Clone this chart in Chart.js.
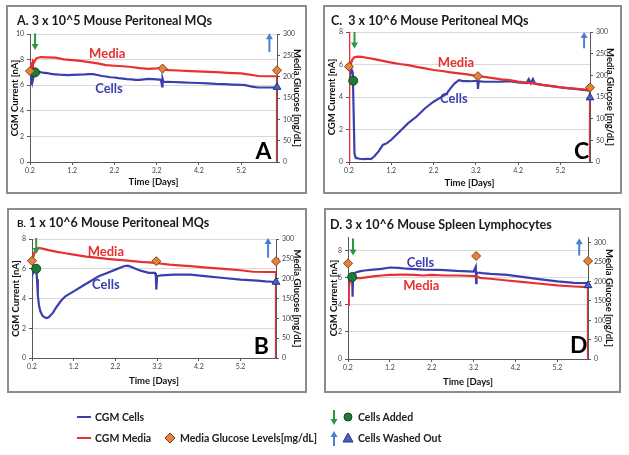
<!DOCTYPE html>
<html>
<head>
<meta charset="utf-8">
<script src="https://cdn.jsdelivr.net/npm/chart.js@4.4.1/dist/chart.umd.min.js"></script>
<style>
  body { margin: 0; width: 629px; height: 455px; background: #fff; position: relative; overflow: hidden; font-family: Lato, sans-serif; }
  .box { position: absolute; border: 2px solid #8c8c8c; box-sizing: border-box; pointer-events: none; }
  canvas { position: absolute; }
  .ttl { position: absolute; font: bold 12.5px Lato, sans-serif; line-height: 14px; color: #1a1a1a; white-space: pre; }
  .lg { position: absolute; font: bold 10.5px Lato, sans-serif; line-height: 14px; color: #222; white-space: nowrap; }
</style>
</head>
<body>
<script>
// ---- data (days / nA / mg/dL) ----
const xTicks = [0.2, 1.2, 2.2, 3.2, 4.2, 5.2];

// A. 3 x 10^5 peritoneal
const aCellsT = [0.2,0.22,0.24,0.26,0.28,0.3,0.34,0.4,0.5,0.6,0.7,0.8,0.9,1.0,1.1,1.2,1.35,1.5,1.6,1.7,1.8,1.9,2.0,2.1,2.2,2.3,2.4,2.5,2.6,2.7,2.8,2.9,3.0,3.1,3.2,3.3,3.33,3.34,3.36,3.45,3.6,3.8,4.0,4.2,4.4,4.6,4.8,5.0,5.2,5.3,5.4,5.5,5.6,5.8,6.05];
const aCells  = [6.1,6.6,7.0,6.3,6.6,6.95,7.0,7.05,6.98,6.95,6.88,6.85,6.82,6.8,6.78,6.8,6.82,6.84,6.87,6.86,6.8,6.72,6.68,6.62,6.6,6.55,6.52,6.48,6.45,6.42,6.42,6.46,6.5,6.48,6.45,6.42,5.9,6.5,6.25,6.27,6.25,6.22,6.19,6.17,6.14,6.1,6.08,6.05,6.03,6.0,5.93,5.87,5.82,5.82,5.82];
const aMediaT = [0.2,0.22,0.23,0.25,0.27,0.3,0.35,0.45,0.6,0.8,1.0,1.2,1.4,1.6,1.8,2.0,2.2,2.4,2.6,2.8,3.0,3.2,3.3,3.36,3.5,3.7,4.0,4.3,4.6,4.9,5.2,5.35,5.5,5.6,5.8,6.05,6.05];
const aMedia  = [7.0,7.8,7.2,6.9,7.9,7.8,8.1,8.2,8.18,8.15,8.02,7.96,7.9,7.8,7.7,7.57,7.52,7.48,7.42,7.33,7.28,7.32,7.35,7.22,7.18,7.15,7.1,7.06,7.02,6.97,6.92,6.85,6.78,6.72,6.7,6.7,0];
const aGlucT = [0.2, 3.34, 6.05];
const aGluc  = [213, 219, 215];
const aAddT = [0.32], aAdd = [7.0];
const aOutT = [6.05], aOut = [5.85];

// C. 3 x 10^6 peritoneal
const cCellsT = [0.2,0.23,0.26,0.29,0.31,0.33,0.36,0.45,0.55,0.65,0.72,0.8,0.9,1.0,1.1,1.2,1.4,1.6,1.8,2.0,2.2,2.4,2.5,2.6,2.7,2.8,2.9,3.0,3.1,3.2,3.24,3.25,3.27,3.4,3.6,3.8,4.0,4.2,4.4,4.45,4.5,4.55,4.6,4.8,5.0,5.2,5.4,5.6,5.9];
const cCells  = [4.8,5.4,5.7,5.5,3.0,0.5,0.25,0.2,0.18,0.2,0.18,0.35,0.65,1.05,1.16,1.37,1.88,2.39,2.8,3.31,3.71,4.02,4.18,4.53,4.84,5.04,4.98,4.98,4.97,5.0,4.98,4.5,4.97,4.94,4.94,4.95,4.98,4.9,4.86,5.1,4.84,5.1,4.82,4.73,4.67,4.59,4.53,4.49,4.39];
const cMediaT = [0.2,0.2,0.21,0.24,0.28,0.33,0.4,0.5,0.65,0.8,1.0,1.2,1.4,1.6,1.8,2.0,2.2,2.4,2.6,2.8,3.0,3.2,3.4,3.6,3.8,4.0,4.2,4.4,4.6,4.8,5.0,5.2,5.4,5.6,5.9,5.9];
const cMedia  = [0,8.6,5.9,6.0,6.3,6.45,6.48,6.47,6.4,6.33,6.22,6.12,6.03,5.96,5.85,5.76,5.66,5.6,5.52,5.45,5.39,5.3,5.24,5.16,5.08,5.04,4.95,4.88,4.82,4.74,4.67,4.6,4.55,4.5,4.43,0];
const cGlucT = [0.2, 3.25, 5.9];
const cGluc  = [220, 198, 172];
const cAddT = [0.3], cAdd = [5.0];
const cOutT = [5.9], cOut = [3.96];

// B. 1 x 10^6 peritoneal
const bCellsT = [0.2,0.24,0.27,0.3,0.32,0.34,0.37,0.4,0.45,0.5,0.55,0.6,0.7,0.8,0.9,1.0,1.2,1.4,1.6,1.8,2.0,2.2,2.4,2.5,2.6,2.8,3.0,3.15,3.17,3.18,3.2,3.3,3.6,4.0,4.4,4.8,5.2,5.6,5.8,6.05];
const bCells  = [5.5,5.9,6.0,6.1,5.3,4.2,3.5,3.14,2.85,2.74,2.69,2.74,3.03,3.48,3.86,4.15,4.48,4.82,5.16,5.49,5.72,5.94,6.17,6.21,6.1,5.87,5.72,5.72,5.5,4.6,5.5,5.56,5.6,5.6,5.49,5.38,5.27,5.2,5.15,5.11];
const bMediaT = [0.2,0.22,0.25,0.28,0.32,0.36,0.45,0.6,0.8,1.0,1.2,1.5,1.8,2.0,2.2,2.5,2.8,3.0,3.15,3.2,3.5,3.8,4.0,4.4,4.8,5.2,5.5,5.8,6.05,6.05];
const bMedia  = [6.3,6.7,7.0,7.25,7.35,7.4,7.35,7.25,7.13,7.04,6.95,6.82,6.73,6.66,6.61,6.55,6.46,6.43,6.4,6.37,6.28,6.21,6.17,6.08,5.99,5.9,5.8,5.78,5.78,0];
const bGlucT = [0.2, 3.18, 6.05];
const bGluc  = [245, 244, 244];
const bAddT = [0.3], bAdd = [6.0];
const bOutT = [6.05], bOut = [5.11];

// D. 3 x 10^6 spleen lymphocytes
const dCellsT = [0.2,0.25,0.3,0.31,0.32,0.33,0.4,0.5,0.6,0.8,1.0,1.2,1.4,1.6,2.0,2.4,2.8,3.2,3.25,3.26,3.27,3.3,3.4,3.6,4.0,4.4,4.8,5.2,5.6,5.93];
const dCells  = [5.8,6.0,6.2,4.6,6.2,6.3,6.4,6.48,6.53,6.6,6.65,6.75,6.72,6.66,6.6,6.58,6.5,6.45,6.8,5.6,6.4,6.38,6.34,6.28,6.21,6.04,5.87,5.72,5.62,5.6];
const dMediaT = [0.2,0.22,0.25,0.3,0.4,0.5,0.8,1.0,1.2,1.5,1.8,2.0,2.2,2.5,2.8,3.0,3.25,3.3,3.35,3.6,4.0,4.4,4.8,5.2,5.6,5.93,5.93];
const dMedia  = [4.0,5.3,5.8,5.97,5.97,5.97,6.09,6.16,6.21,6.22,6.21,6.16,6.21,6.16,6.16,6.14,6.11,6.05,5.99,5.92,5.79,5.67,5.55,5.43,5.35,5.3,0];
const dGlucT = [0.2, 3.26, 5.93];
const dGluc  = [247, 266, 253];
const dAddT = [0.3], dAdd = [6.04];
const dOutT = [5.93], dOut = [5.43];

// arrows [day, from, to(tip)], text anchors [day, nA]
const aArrows = [[0.32, 10.05, 8.75], [5.87, 8.6, 10.05]];
const cArrows = [[0.33, 8.0, 6.98], [5.76, 7.0, 8.0]];
const bArrows = [[0.3, 8.07, 7.0], [5.86, 6.75, 8.07]];
const dArrows = [[0.32, 8.9, 7.63], [5.72, 7.63, 8.9]];
const aLabels = [['Media', 2.03, 8.43], ['Cells', 2.07, 5.74], ['A', 5.73, 0.84]];
const cLabels = [['Media', 2.73, 6.1], ['Cells', 2.68, 3.88], ['C', 5.7, 0.65]];
const bLabels = [['Media', 1.97, 7.17], ['Cells', 1.97, 4.89], ['B', 5.7, 0.78]];
const dLabels = [['Cells', 1.93, 7.07], ['Media', 1.95, 5.43], ['D', 5.71, 0.98]];

const BLUE = '#3a3fae', RED = '#e8312f', ORANGE = '#e8823a', GREEN = '#1e7a36', GARROW = '#2a9a3c', BARROW = '#4a7fd0', TRI = '#4b5fc4';
Chart.defaults.font.family = 'Lato, sans-serif';

const zip = (t, v) => t.map((x, i) => ({ x, y: v[i] }));

const panels = [
  { title: 'A. 3 x 10^5 Mouse Peritoneal MQs', tl: [17, 14], box: [6, 5, 301, 189], top: 29, yW: 24, y2W: 30, xH: 32, xPad: 6, yPad: 3, y2Pad: 4,
    xMax: 6.05, yMax: 10, y2Max: 300, yTicks: [0, 2, 4, 6, 8, 10],
    cells: zip(aCellsT, aCells), media: zip(aMediaT, aMedia), gluc: zip(aGlucT, aGluc), add: zip(aAddT, aAdd), out: zip(aOutT, aOut), arrows: aArrows, labels: aLabels },
  { title: 'C.  3 x 10^6 Mouse Peritoneal MQs', tl: [331, 14], box: [323, 5, 299, 189], top: 27, yW: 26, y2W: 32, xH: 32, xPad: 5, yPad: 3, y2Pad: 6,
    xMax: 5.9, yMax: 8, y2Max: 300, yTicks: [0, 2, 4, 6, 8],
    cells: zip(cCellsT, cCells), media: zip(cMediaT, cMedia), gluc: zip(cGlucT, cGluc), add: zip(cAddT, cAdd), out: zip(cOutT, cOut), arrows: cArrows, labels: cLabels },
  { title: '<span style="font-size:10px">B.</span> 1 x 10^6 Mouse Peritoneal MQs', tl: [17, 216], box: [7, 208, 300, 185], top: 31, yW: 25, y2W: 31, xH: 35, xPad: 6, yPad: 3, y2Pad: 4,
    xMax: 6.05, yMax: 8, y2Max: 300, yTicks: [0, 2, 4, 6, 8],
    cells: zip(bCellsT, bCells), media: zip(bMediaT, bMedia), gluc: zip(bGlucT, bGluc), add: zip(bAddT, bAdd), out: zip(bOutT, bOut), arrows: bArrows, labels: bLabels },
  { title: 'D. 3 x 10^6 Mouse Spleen Lymphocytes', tl: [330, 218], box: [324, 208, 297, 185], top: 29, yW: 24, y2W: 33, xH: 34, xPad: 5, yPad: 4, y2Pad: 6,
    xMax: 5.93, yMax: 9, y2Max: 315, yTicks: [0, 2, 4, 6, 8],
    cells: zip(dCellsT, dCells), media: zip(dMediaT, dMedia), gluc: zip(dGlucT, dGluc), add: zip(dAddT, dAdd), out: zip(dOutT, dOut), arrows: dArrows, labels: dLabels }
];

function drawArrow(ctx, x, yFrom, yTo, color) {
  const dir = Math.sign(yTo - yFrom);
  ctx.strokeStyle = color; ctx.fillStyle = color; ctx.lineWidth = 2;
  ctx.beginPath(); ctx.moveTo(x, yFrom); ctx.lineTo(x, yTo - dir * 5); ctx.stroke();
  ctx.beginPath(); ctx.moveTo(x - 3.5, yTo - dir * 6); ctx.lineTo(x + 3.5, yTo - dir * 6); ctx.lineTo(x, yTo); ctx.closePath(); ctx.fill();
}

function notesPlugin(p) {
  return {
    id: 'notes',
    afterDatasetsDraw(chart) {
      const { ctx, scales: { x, y } } = chart;
      ctx.save();
      p.arrows.forEach((a, i) => drawArrow(ctx, x.getPixelForValue(a[0]), y.getPixelForValue(a[1]), y.getPixelForValue(a[2]), i === 0 ? GARROW : BARROW));
      ctx.textAlign = 'center'; ctx.textBaseline = 'middle';
      p.labels.forEach(l => {
        const big = l[0].length === 1;
        ctx.font = big ? 'bold 23px Lato' : 'bold 13px Lato';
        ctx.fillStyle = big ? '#000' : (l[0] === 'Media' ? RED : BLUE);
        ctx.fillText(l[0], x.getPixelForValue(l[1]), y.getPixelForValue(l[2]));
      });
      ctx.restore();
    }
  };
}

function axisTitle(text, pad, bottom) {
  return { display: true, text, color: '#111', font: { size: 9.5, weight: 'bold' },
           padding: bottom ? { top: 0, bottom: pad } : { top: pad, bottom: 0 } };
}

panels.forEach(p => {
  const [bx, by, bw, bh] = p.box;
  const cv = document.createElement('canvas');
  cv.width = bw; cv.height = bh;
  cv.style.left = bx + 'px'; cv.style.top = by + 'px';
  cv.style.width = bw + 'px'; cv.style.height = bh + 'px';
  document.body.appendChild(cv);

  const box = document.createElement('div');
  box.className = 'box';
  Object.assign(box.style, { left: bx + 'px', top: by + 'px', width: bw + 'px', height: bh + 'px' });
  document.body.appendChild(box);

  const t = document.createElement('div');
  t.className = 'ttl'; t.innerHTML = p.title;
  t.style.left = p.tl[0] + 'px'; t.style.top = p.tl[1] + 'px';
  document.body.appendChild(t);

  const tickFont = { size: 7 };
  new Chart(cv, {
    type: 'scatter',
    data: {
      datasets: [
        { data: p.gluc, yAxisID: 'y2', pointStyle: 'rectRot', pointRadius: 4.5, backgroundColor: ORANGE, borderColor: '#7a4418', borderWidth: 1, clip: false },
        { data: p.add, yAxisID: 'y', pointStyle: 'circle', pointRadius: 4.5, backgroundColor: GREEN, borderColor: '#0f4a20', borderWidth: 1, clip: false },
        { data: p.out, yAxisID: 'y', pointStyle: 'triangle', pointRadius: 4.5, backgroundColor: TRI, borderColor: '#26338a', borderWidth: 1, clip: false },
        { data: p.media, yAxisID: 'y', showLine: true, pointRadius: 0, borderColor: RED, borderWidth: 2.2 },
        { data: p.cells, yAxisID: 'y', showLine: true, pointRadius: 0, borderColor: BLUE, borderWidth: 2.2 }
      ]
    },
    options: {
      responsive: false, animation: false, devicePixelRatio: 1,
      layout: { padding: { top: p.top, left: 0, right: 0, bottom: 0 }, autoPadding: false },
      plugins: { legend: { display: false }, tooltip: { enabled: false } },
      scales: {
        x: {
          type: 'linear', min: 0.2, max: p.xMax,
          afterBuildTicks: s => { s.ticks = xTicks.map(v => ({ value: v })); },
          afterFit: s => { s.height = p.xH; },
          ticks: { font: tickFont, color: '#444', padding: 2, maxRotation: 0, callback: v => v.toFixed(1) },
          grid: { drawOnChartArea: false, tickLength: 3, tickColor: '#595959' },
          border: { color: '#595959', width: 1 },
          title: axisTitle('Time [Days]', p.xPad, true)
        },
        y: {
          position: 'left', min: 0, max: p.yMax,
          afterBuildTicks: s => { s.ticks = p.yTicks.map(v => ({ value: v })); },
          afterFit: s => { s.width = p.yW; },
          ticks: { font: tickFont, color: '#444', padding: 3 },
          grid: { color: '#d9d9d9', tickLength: 3, tickColor: '#595959' },
          border: { color: '#595959', width: 1 },
          title: axisTitle('CGM Current [nA]', p.yPad, false)
        },
        y2: {
          position: 'right', min: 0, max: p.y2Max,
          afterBuildTicks: s => { s.ticks = [0, 50, 100, 150, 200, 250, 300].map(v => ({ value: v })); },
          afterFit: s => { s.width = p.y2W; },
          ticks: { font: tickFont, color: '#444', padding: 3 },
          grid: { drawOnChartArea: false, tickLength: 3, tickColor: '#595959' },
          border: { color: '#595959', width: 1 },
          title: axisTitle('Media Glucose [mg/dL]', p.y2Pad, false)
        }
      }
    },
    plugins: [notesPlugin(p)]
  });
});

// ---- legend ----
const lg = document.createElement('canvas');
lg.width = 629; lg.height = 60; lg.style.left = '0px'; lg.style.top = '395px';
document.body.appendChild(lg);
const g = lg.getContext('2d');
g.lineWidth = 2;
g.strokeStyle = BLUE; g.beginPath(); g.moveTo(77, 22); g.lineTo(91, 22); g.stroke();
g.strokeStyle = RED; g.beginPath(); g.moveTo(77, 43); g.lineTo(91, 43); g.stroke();
g.fillStyle = ORANGE; g.strokeStyle = '#7a4418'; g.lineWidth = 1;
g.beginPath(); g.moveTo(170, 38); g.lineTo(175, 43); g.lineTo(170, 48); g.lineTo(165, 43); g.closePath(); g.fill(); g.stroke();
drawArrow(g, 334, 15, 30, GARROW);
drawArrow(g, 334, 51, 36, BARROW);
g.lineWidth = 1;
g.fillStyle = GREEN; g.strokeStyle = '#0f4a20'; g.beginPath(); g.arc(348, 22, 4, 0, Math.PI * 2); g.fill(); g.stroke();
g.fillStyle = TRI; g.strokeStyle = '#26338a'; g.beginPath(); g.moveTo(348, 38); g.lineTo(353, 47); g.lineTo(343, 47); g.closePath(); g.fill(); g.stroke();

[['CGM Cells', 95, 410], ['CGM Media', 95, 431], ['Media Glucose Levels[mg/dL]', 180, 431], ['Cells Added', 358, 410], ['Cells Washed Out', 358, 431]]
  .forEach(([txt, x, y]) => {
    const d = document.createElement('div');
    d.className = 'lg'; d.textContent = txt;
    d.style.left = x + 'px'; d.style.top = y + 'px';
    document.body.appendChild(d);
  });
</script>
</body>
</html>
